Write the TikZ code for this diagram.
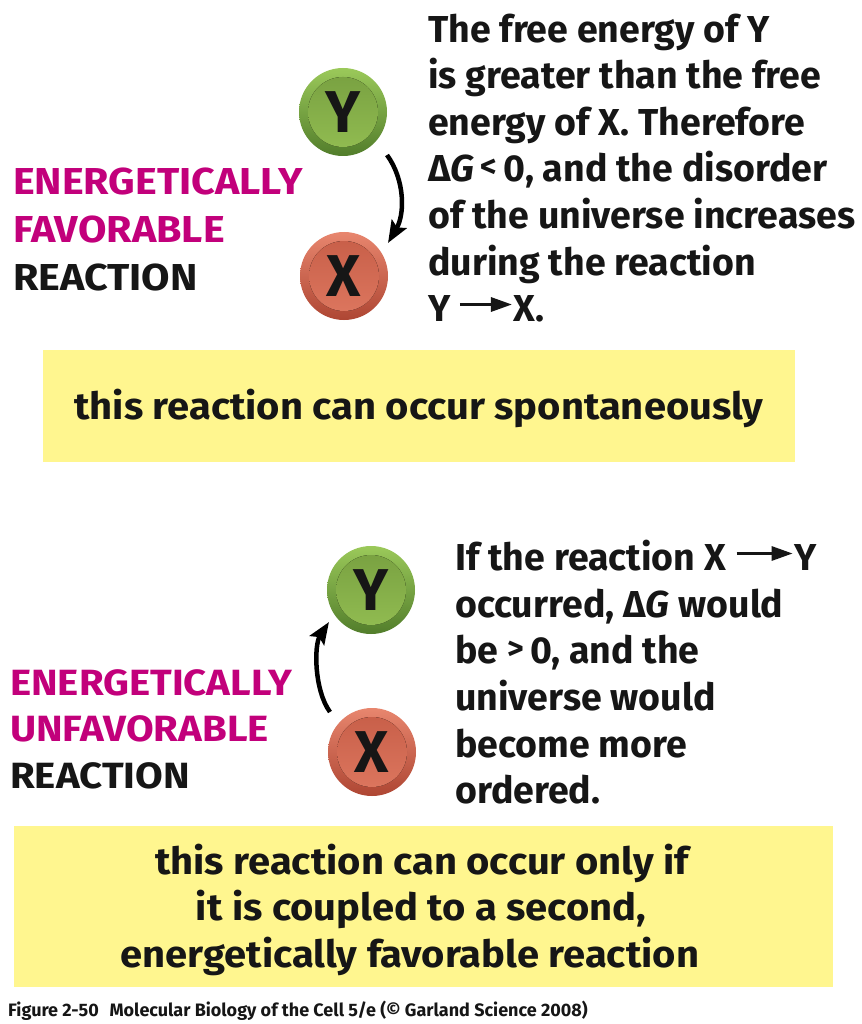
\documentclass[tikz,border=0pt]{standalone}
\usepackage{fontspec}
\setmainfont{Fira Sans}[BoldFont={Fira Sans Bold}, BoldItalicFont={Fira Sans Bold Italic}]
\newfontfamily\lblfont{Fira Sans Bold}[FakeStretch=1.10]
\newfontfamily\boxfont{Fira Sans Bold}[FakeStretch=1.065]
\usetikzlibrary{arrows.meta}
\definecolor{mag}{HTML}{C2007B}
\definecolor{ylw}{HTML}{FFF68F}
\definecolor{inkc}{HTML}{161616}
\definecolor{gOutT}{HTML}{9BC95A}
\definecolor{gOutB}{HTML}{527D2B}
\definecolor{gInT}{HTML}{779F40}
\definecolor{gInB}{HTML}{93BE52}
\definecolor{rOutT}{HTML}{E8866E}
\definecolor{rOutB}{HTML}{AE4633}
\definecolor{rInT}{HTML}{C65D47}
\definecolor{rInB}{HTML}{DE7860}
\newcommand\txtarrow[1]{\tikz[baseline=0pt]{\draw[line width=3pt,-{Triangle[length=21pt,width=14pt]}] (0pt,17pt) -- (#1,17pt);}}
\newcommand\dG{Δ\textit{G}}
\newcommand\smallrel[1]{\raisebox{4pt}{\fontsize{32}{32}\selectfont #1}}
\tikzset{
  ball/.style n args={4}{circle, minimum size=88pt, inner sep=0pt,
    top color=#1, bottom color=#2,
    path picture={\fill[top color=#3, bottom color=#4]
      (path picture bounding box.center) circle (35pt);},
    font=\fontsize{59}{59}\selectfont\bfseries, text=inkc},
  greenball/.style={ball={gOutT}{gOutB}{gInT}{gInB}},
  redball/.style={ball={rOutT}{rOutB}{rInT}{rInB}},
  txt/.style={anchor=base west, inner sep=0pt, text=inkc,
    font=\fontsize{37.5}{44}\selectfont\bfseries},
  lbl/.style={anchor=base west, inner sep=0pt, text=mag,
    font=\fontsize{37.5}{44}\selectfont\lblfont},
  lblk/.style={lbl, text=inkc},
  lblb/.style={lbl, font=\fontsize{36.5}{44}\selectfont\lblfont},
  lblbk/.style={lblb, text=inkc},
  boxtxt/.style={anchor=base, inner sep=0pt, text=inkc,
    font=\fontsize{37.5}{44}\selectfont\boxfont},
  ybox/.style={fill=ylw, draw=none, anchor=north west, inner sep=0pt},
  rxn/.style={line width=4.5pt, -{Stealth[length=22pt,width=17pt,inset=4pt]}},
}
\begin{document}
\begin{tikzpicture}[x=1pt,y=-1pt]
\useasboundingbox (0,0) rectangle (861,1024);
\fill[white] (0,0) rectangle (861,1024);

% ---------- top half ----------
\node[greenball] (Yt) at (343,112) {Y};
\node[redball] (Xt) at (344,276) {X};
\coordinate (a1s) at (387,155);
\coordinate (a1e) at (388,243);
\draw[rxn] (a1s) .. controls (405,180) and (405,214) .. (a1e);

\node[lbl] (l1a) at (13,195) {ENERGETICALLY};
\node[lbl] (l1b) at (13,243) {FAVORABLE};
\node[lblk] (l1c) at (13,290) {REACTION};

\node[txt] (t1) at (428,42.5) {The free energy of Y};
\node[txt] (t2) at (428,89) {is greater than the free};
\node[txt] (t3) at (428,135.5) {energy of X. Therefore};
\node[txt] (t4) at (428,182) {\dG\,\smallrel{<}\,0, and the disorder};
\node[txt] (t5) at (428,228.5) {of the universe increases};
\node[txt] (t6) at (428,275) {during the reaction};
\node[txt] (t7) at (428,321.5) {Y\hspace{8pt}\txtarrow{52pt}X.};

\node[ybox, minimum width=752pt, minimum height=112pt] (b1) at (43,350) {};
\node[boxtxt] (b1t) at (419,419) {this reaction can occur spontaneously};

% ---------- bottom half ----------
\node[greenball] (Yb) at (371,590) {Y};
\node[redball] (Xb) at (372,752) {X};
\coordinate (a2s) at (330,712);
\coordinate (a2e) at (329,622);
\draw[rxn] (a2s) .. controls (314,690) and (314,645) .. (a2e);

\node[lblb] (l2a) at (10,695) {ENERGETICALLY};
\node[lblb] (l2b) at (10,741) {UNFAVORABLE};
\node[lblbk] (l2c) at (10,788) {REACTION};

\node[txt] (s1) at (455,570.5) {If the reaction X\hspace{9pt}\txtarrow{56pt}Y};
\node[txt] (s2) at (455,617) {occurred, \dG\ would};
\node[txt] (s3) at (455,663.5) {be \smallrel{>}\,0, and the};
\node[txt] (s4) at (455,710) {universe would};
\node[txt] (s5) at (455,757) {become more};
\node[txt] (s6) at (455,803.5) {ordered.};

\node[ybox, minimum width=819pt, minimum height=161pt] (b2) at (14,826) {};
\node[boxtxt] (b2a) at (422,874) {this reaction can occur only if};
\node[boxtxt] (b2b) at (421,920) {it is coupled to a second,};
\node[boxtxt] (b2c) at (410,967) {energetically favorable reaction};

\node[txt, font=\fontsize{18}{20}\selectfont\bfseries] (cap) at (8,1016)
  {Figure 2-50\hspace{0.6em}Molecular Biology of the Cell 5/e (© Garland Science 2008)};
\end{tikzpicture}
\end{document}
